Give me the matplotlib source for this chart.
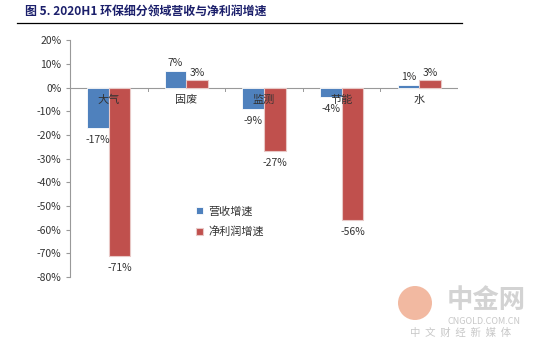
import matplotlib
matplotlib.use("Agg")
import matplotlib.pyplot as plt
import numpy as np
from matplotlib.patches import Circle

plt.rcParams['font.family'] = ['Noto Sans CJK SC', 'DejaVu Sans']

categories = ["大气", "固废", "监测", "节能", "水"]
revenue_growth = [-17, 7, -9, -4, 1]
profit_growth = [-71, 3, -27, -56, 3]
series_names = ["营收增速", "净利润增速"]
yticks = list(range(-80, 21, 10))

blue = "#4F81BD"
red = "#C0504D"

W, H = 546, 352
fig = plt.figure(figsize=(5.46, 3.52), dpi=100)
ax = fig.add_axes([0.128, 0.213, 0.711, 0.673])

x = np.arange(len(categories))
w = 0.28
b1 = ax.bar(x - w/2, revenue_growth, w, color=blue, label=series_names[0],
            edgecolor="white", linewidth=0.6, zorder=3)
b2 = ax.bar(x + w/2, profit_growth, w, color=red, label=series_names[1],
            edgecolor="#E8C8C6", linewidth=0.8, zorder=3)

for bars, vals in ((b1, revenue_growth), (b2, profit_growth)):
    for rect, v in zip(bars, vals):
        cx = rect.get_x() + rect.get_width() / 2
        if v < 0:
            ax.annotate(f"{v}%", (cx, v), xytext=(0, -5), textcoords="offset points",
                        ha="center", va="top", fontsize=7.5, color="#333333", zorder=5)
        else:
            ax.annotate(f"{v}%", (cx, v), xytext=(0, 2), textcoords="offset points",
                        ha="center", va="bottom", fontsize=7.5, color="#333333", zorder=5)

ax.set_xlim(-0.5, len(categories) - 0.5)
ax.set_ylim(-80, 20)
ax.set_yticks(yticks)
ax.set_yticklabels([f"{t}%" for t in yticks], fontsize=7.5, color="#333333")
ax.tick_params(axis="y", length=3, color="#999999", pad=3)

# category labels just below zero line
for xi, c in zip(x, categories):
    ax.text(xi, -3, c, ha="center", va="top", fontsize=8, color="#333333", zorder=4)

ax.set_xticks([])
# category separator ticks crossing zero line
for b in np.arange(0.5, len(categories) - 0.5, 1.0):
    ax.plot([b, b], [0, -1.4], color="#999999", lw=0.7, zorder=2)
ax.axhline(0, color="#999999", lw=0.8, zorder=2)

for s in ("top", "right", "bottom"):
    ax.spines[s].set_visible(False)
ax.spines["left"].set_color("#999999")
ax.spines["left"].set_linewidth(0.8)

leg = ax.legend(loc="upper left", bbox_to_anchor=(0.3, 0.34), frameon=False,
                fontsize=8, handlelength=0.6, handleheight=0.6, handletextpad=0.5,
                labelspacing=0.85)
for t in leg.get_texts():
    t.set_color("#333333")

# title and rule
fig.text(0.046, 0.966, "图 5. 2020H1 环保细分领域营收与净利润增速", fontsize=8.6,
         fontweight="bold", color="#1B1F6B", ha="left", va="center")
fig.add_artist(plt.Line2D([0.031, 0.846], [0.934, 0.934], color="black", lw=0.9))

# watermark
fig.patches.append(Circle((415, H - 303), 17, transform=None,
                          facecolor="#EFA88A", edgecolor="none", alpha=0.8,
                          zorder=0))
fig.text(486 / W, 1 - 300 / H, "中金网", fontsize=19, color="#D3D3D3", ha="center",
         va="center", fontweight="bold")
fig.text(484 / W, 1 - 321 / H, "CNGOLD.COM.CN", fontsize=6.5, color="#C8C8C8",
         ha="center", va="center")
fig.text(461 / W, 1 - 333 / H, "中  文  财  经  新  媒  体", fontsize=7.5,
         color="#C8C8C8", ha="center", va="center")

fig.savefig("out.png", dpi=100)
